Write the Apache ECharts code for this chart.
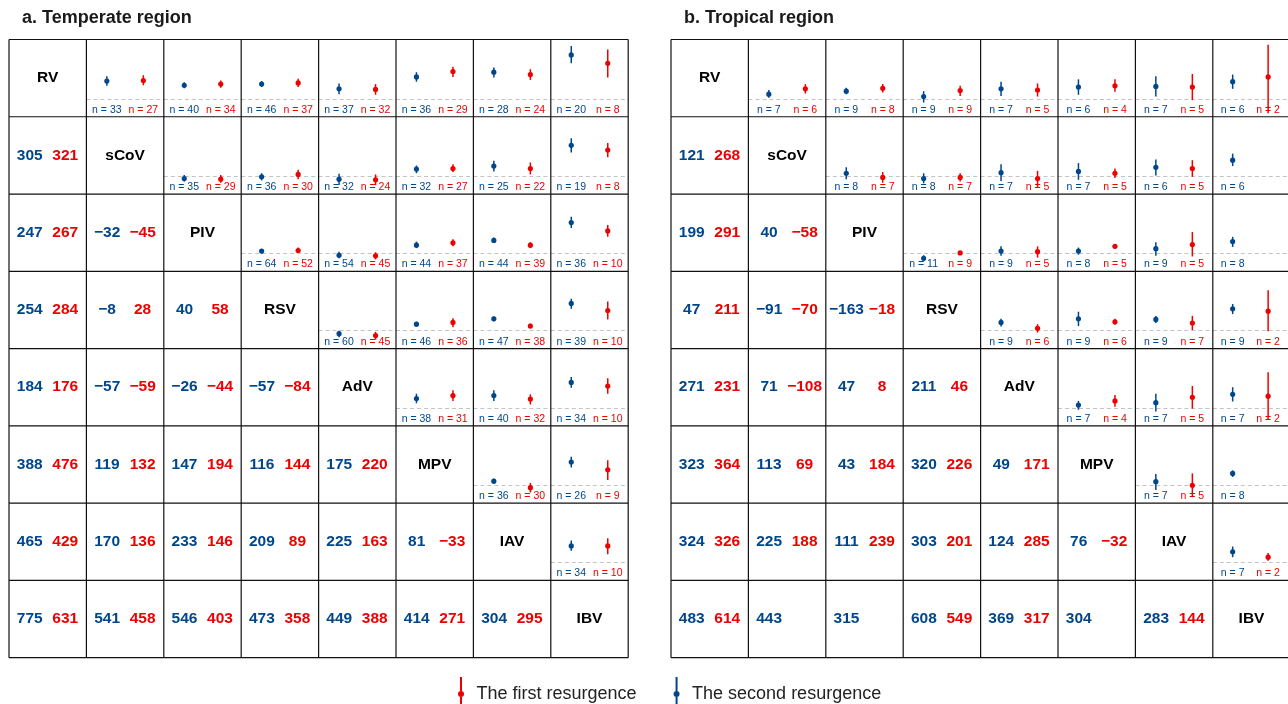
<!DOCTYPE html>
<html>
<head>
<meta charset="utf-8">
<script src="https://cdn.jsdelivr.net/npm/echarts@6/dist/echarts.min.js"></script>
<style>
  html, body { margin: 0; padding: 0; background: #ffffff; }
  #chart { width: 1288px; height: 704px; }
</style>
</head>
<body>
<div id="chart"></div>
<script>
// ---------- data ----------
const VIRUSES = ['RV', 'sCoV', 'PIV', 'RSV', 'AdV', 'MPV', 'IAV', 'IBV'];
const PANEL_TITLES = ['a. Temperate region', 'b. Tropical region'];
const SERIES_NAMES = ['The first resurgence', 'The second resurgence'];

// Upper triangle, row-major: [estimate, lower, upper, n]
const temperateSecond = [
  [30, 22, 38, 33], [23, 18, 28, 40], [25, 20, 30, 46], [17, 8, 26, 37], [37, 29, 45, 36], [45, 36, 53, 28], [74, 60, 89, 20],
  [-4, -9, 2, 35], [-1, -7, 5, 36], [-5, -15, 4, 32], [12, 5, 18, 32], [17, 8, 26, 25], [52, 40, 64, 19],
  [4, 0, 7, 64], [-3, -8, 3, 54], [14, 9, 20, 44], [22, 18, 27, 44], [52, 43, 62, 36],
  [-5, -11, 0, 60], [11, 7, 15, 46], [20, 16, 24, 47], [46, 37, 54, 39],
  [16, 8, 24, 38], [21, 12, 30, 40], [43, 34, 52, 34],
  [7, 3, 11, 36], [39, 30, 48, 26],
  [28, 20, 37, 34]
];
const temperateFirst = [
  [31, 23, 40, 27], [25, 19, 31, 34], [27, 20, 34, 37], [16, 7, 25, 32], [46, 37, 54, 29], [41, 32, 50, 24], [60, 36, 83, 8],
  [-5, -11, 2, 29], [3, -5, 11, 30], [-6, -15, 3, 24], [13, 7, 20, 27], [13, 3, 23, 22], [44, 32, 56, 8],
  [5, 1, 10, 52], [-4, -10, 2, 45], [18, 12, 24, 37], [14, 9, 19, 39], [38, 28, 48, 10],
  [-8, -15, -2, 45], [14, 6, 21, 36], [8, 4, 12, 38], [34, 19, 49, 10],
  [21, 12, 30, 31], [15, 6, 23, 32], [37, 24, 50, 10],
  [-4, -12, 4, 30], [26, 9, 42, 9],
  [28, 14, 41, 10]
];
const tropicalSecond = [
  [8, 2, 15, 7], [13, 8, 19, 9], [4, -6, 13, 9], [17, 5, 29, 7], [20, 7, 33, 6], [21, 4, 38, 7], [29, 17, 41, 6],
  [5, -5, 15, 8], [-4, -12, 5, 8], [6, -8, 20, 7], [8, -6, 22, 7], [15, 1, 28, 6], [27, 17, 38, 6],
  [-8, -13, -3, 11], [4, -4, 12, 9], [4, -2, 10, 8], [8, -4, 19, 9], [20, 11, 28, 8],
  [14, 7, 20, 9], [20, 8, 32, 9], [19, 13, 25, 9], [37, 28, 45, 9],
  [5, -3, 12, 7], [9, -6, 24, 7], [23, 11, 35, 7],
  [6, -8, 19, 7], [20, 14, 25, 8],
  [18, 9, 27, 7]
];
const tropicalFirst = [
  [17, 9, 25, 6], [18, 11, 25, 8], [14, 5, 22, 9], [15, 4, 26, 5], [22, 12, 33, 4], [20, -2, 42, 5], [37, -24, 91, 2],
  [-2, -11, 7, 7], [-2, -9, 5, 7], [-4, -18, 9, 5], [5, -3, 13, 5], [13, -1, 27, 5], null,
  [1, -1, 2, 9], [3, -7, 12, 5], [12, 9, 16, 5], [15, -5, 36, 5], null,
  [4, -3, 11, 6], [15, 10, 20, 6], [13, 1, 25, 7], [33, -1, 68, 2],
  [12, 2, 22, 4], [18, -1, 37, 5], [20, -20, 60, 2],
  [0, -20, 20, 5], null,
  [9, 3, 16, 2]
];

// Lower triangle, row-major
const temperateLowerSecond = [305, 247, -32, 254, -8, 40, 184, -57, -26, -57, 388, 119, 147, 116, 175,
  465, 170, 233, 209, 225, 81, 775, 541, 546, 473, 449, 414, 304];
const temperateLowerFirst = [321, 267, -45, 284, 28, 58, 176, -59, -44, -84, 476, 132, 194, 144, 220,
  429, 136, 146, 89, 163, -33, 631, 458, 403, 358, 388, 271, 295];
const tropicalLowerSecond = [121, 199, 40, 47, -91, -163, 271, 71, 47, 211, 323, 113, 43, 320, 49,
  324, 225, 111, 303, 124, 76, 483, 443, 315, 608, 369, 304, 283];
const tropicalLowerFirst = [268, 291, -58, 211, -70, -18, 231, -108, 8, 46, 364, 69, 184, 226, 171,
  326, 188, 239, 201, 285, -32, 614, null, null, 549, 317, null, 144];

// ---------- layout & style ----------
const BLUE = '#00468B';
const RED = '#ED0000';
const FONT = "'Liberation Sans', Arial, Helvetica, sans-serif";
const Y_MIN = -30, Y_MAX = 100;
const X_MIN = -0.56, X_MAX = 1.56;   // slot 0 = second resurgence, slot 1 = first
const CELL_W = 77.4, CELL_H = 77.27, TOP = 39.5;
const PANEL_LEFT = [9, 671];

const panels = [
  { title: PANEL_TITLES[0], left: PANEL_LEFT[0], second: temperateSecond, first: temperateFirst,
    lowSecond: temperateLowerSecond, lowFirst: temperateLowerFirst },
  { title: PANEL_TITLES[1], left: PANEL_LEFT[1], second: tropicalSecond, first: tropicalFirst,
    lowSecond: tropicalLowerSecond, lowFirst: tropicalLowerFirst }
];

function fmt(v) { return v < 0 ? '\u2212' + Math.abs(v) : String(v); }

function pointRange(params, api) {
  const x = api.value(0);
  const pEst = api.coord([x, api.value(1)]);
  const pLo = api.coord([x, api.value(2)]);
  const pHi = api.coord([x, api.value(3)]);
  const bottom = api.coord([x, Y_MIN])[1];
  const color = api.visual('color');
  return {
    type: 'group',
    children: [
      { type: 'text', x: pEst[0], y: bottom - 6.8,
        style: { text: 'n = ' + api.value(4), fill: color, fontSize: 10.5, fontFamily: FONT,
                 align: 'center', verticalAlign: 'middle' } },
      { type: 'line', shape: { x1: pLo[0], y1: pLo[1], x2: pHi[0], y2: pHi[1] },
        style: { stroke: color, lineWidth: 1.5 } },
      { type: 'circle', shape: { cx: pEst[0], cy: pEst[1], r: 2.6 }, style: { fill: color } }
    ]
  };
}

const grids = [], xAxes = [], yAxes = [], series = [], graphics = [];

panels.forEach(p => {
  graphics.push({
    type: 'text', x: p.left + 13, y: 18,
    style: { text: p.title, fill: '#1a1a1a', fontSize: 18, fontWeight: 'bold', fontFamily: FONT,
             align: 'left', verticalAlign: 'middle' }
  });
  // table rules
  for (let k = 0; k <= 8; k++) {
    graphics.push({ type: 'line', z: 10,
      shape: { x1: p.left + k * CELL_W, y1: TOP, x2: p.left + k * CELL_W, y2: TOP + 8 * CELL_H },
      style: { stroke: '#111', lineWidth: 1.2 } });
    graphics.push({ type: 'line', z: 10,
      shape: { x1: p.left, y1: TOP + k * CELL_H, x2: p.left + 8 * CELL_W, y2: TOP + k * CELL_H },
      style: { stroke: '#111', lineWidth: 1.2 } });
  }
  let u = 0, l = 0;
  for (let r = 0; r < 8; r++) {
    for (let c = 0; c < 8; c++) {
      const x0 = p.left + c * CELL_W, y0 = TOP + r * CELL_H;
      const mx = x0 + CELL_W / 2, my = y0 + CELL_H / 2;
      if (r === c) {
        graphics.push({ type: 'text', x: mx, y: my,
          style: { text: VIRUSES[r], fill: '#000', fontSize: 15.5, fontWeight: 'bold', fontFamily: FONT,
                   align: 'center', verticalAlign: 'middle' } });
      } else if (c < r) {
        const b = p.lowSecond[l], f = p.lowFirst[l];
        l++;
        if (b !== null) graphics.push({ type: 'text', x: mx - 18, y: my,
          style: { text: fmt(b), fill: BLUE, fontSize: 15.5, fontWeight: 'bold', fontFamily: FONT,
                   align: 'center', verticalAlign: 'middle' } });
        if (f !== null) graphics.push({ type: 'text', x: mx + 17.5, y: my,
          style: { text: fmt(f), fill: RED, fontSize: 15.5, fontWeight: 'bold', fontFamily: FONT,
                   align: 'center', verticalAlign: 'middle' } });
      } else {
        const gi = grids.length;
        grids.push({ left: x0, top: y0, width: CELL_W, height: CELL_H, containLabel: false });
        xAxes.push({ type: 'value', gridIndex: gi, min: X_MIN, max: X_MAX, show: false });
        yAxes.push({ type: 'value', gridIndex: gi, min: Y_MIN, max: Y_MAX, show: false });
        const s = p.second[u], f = p.first[u];
        u++;
        series.push({
          type: 'custom', name: SERIES_NAMES[1], xAxisIndex: gi, yAxisIndex: gi,
          itemStyle: { color: BLUE }, renderItem: pointRange, z: 3,
          data: s ? [[0, s[0], s[1], s[2], s[3]]] : [],
          markLine: {
            silent: true, symbol: 'none', z: 1, animation: false,
            label: { show: false },
            lineStyle: { color: '#c4c4c4', type: [4, 3], width: 1 },
            data: [{ yAxis: 0 }]
          }
        });
        if (f) {
          series.push({
            type: 'custom', name: SERIES_NAMES[0], xAxisIndex: gi, yAxisIndex: gi,
            itemStyle: { color: RED }, renderItem: pointRange, z: 3,
            data: [[1, f[0], f[1], f[2], f[3]]]
          });
        }
      }
    }
  }
});

const chart = echarts.init(document.getElementById('chart'), null, { renderer: 'canvas' });
chart.setOption({
  animation: false,
  backgroundColor: '#ffffff',
  grid: grids,
  xAxis: xAxes,
  yAxis: yAxes,
  series: series,
  graphic: { elements: graphics },
  legend: {
    data: SERIES_NAMES,
    selectedMode: false,
    left: 453, top: 672,
    itemWidth: 21, itemHeight: 34, itemGap: 37,
    symbolKeepAspect: true,
    icon: 'path://M2,0h2v14h-2z M2,20h2v14h-2z M0,17a3,3 0 1,1 6,0a3,3 0 1,1 -6,0z',
    textStyle: { fontSize: 18, color: '#222', fontFamily: FONT, padding: [4, 0, 0, 0] }
  }
});
</script>
</body>
</html>
